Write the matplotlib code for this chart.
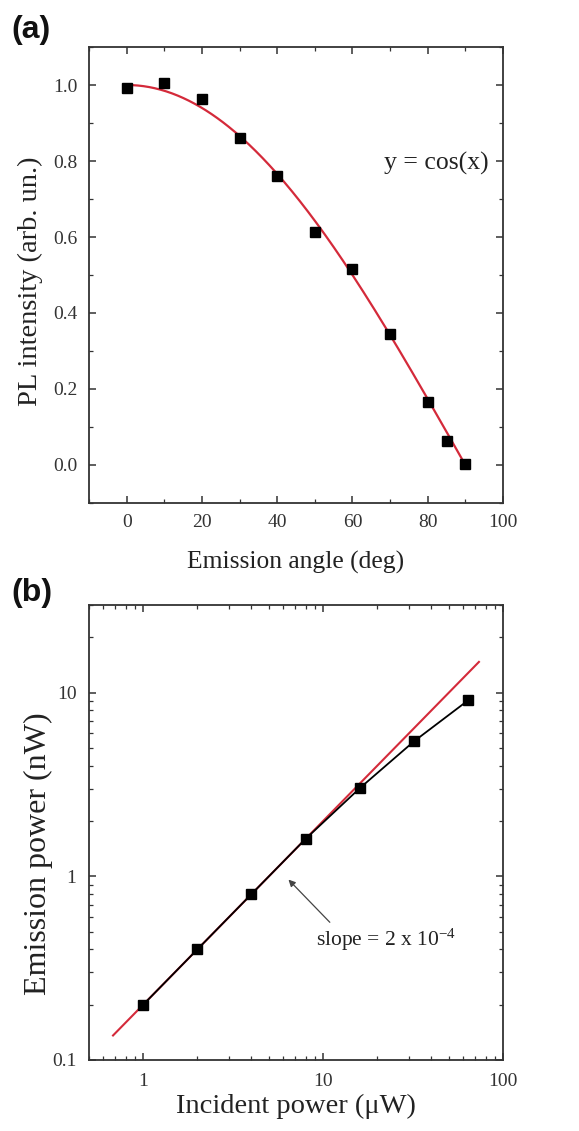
import numpy as np
import matplotlib
matplotlib.use("Agg")
import matplotlib.pyplot as plt
from matplotlib.ticker import MultipleLocator, LogLocator, NullFormatter, FixedLocator, FixedFormatter

# Panel (a) data
angle_deg = [0, 10, 20, 30, 40, 50, 60, 70, 80, 85, 90]
pl_intensity = [0.993, 1.005, 0.962, 0.861, 0.76, 0.613, 0.515, 0.346, 0.165, 0.063, 0.003]

# Panel (b) data
incident_power = [1, 2, 4, 8, 16, 32, 64]
emission_power = [0.2, 0.4, 0.8, 1.6, 3.02, 5.43, 9.08]
fit_slope = 0.2  # nW per uW  (2 x 10^-4)
fit_range = [0.68, 73.5]

plt.rcParams['font.family'] = ['Liberation Serif', 'DejaVu Serif']
plt.rcParams['mathtext.fontset'] = 'custom'
plt.rcParams['mathtext.rm'] = 'Liberation Serif'
plt.rcParams['mathtext.it'] = 'Liberation Serif:italic'

W, H = 579, 1131
fig = plt.figure(figsize=(W / 100, H / 100), dpi=100)

def ax_rect(l, t, r, b):
    return [l / W, 1 - b / H, (r - l) / W, (b - t) / H]

def style(ax, pad):
    for s in ax.spines.values():
        s.set_linewidth(1.3)
        s.set_color('#333333')
    ax.tick_params(which='both', direction='in', top=True, right=True, colors='#333333')
    ax.tick_params(which='major', length=5, width=1.1, labelsize=14, labelcolor='#333333', pad=pad)
    ax.tick_params(which='minor', length=3, width=0.9)

# ---- Panel (a)
ax1 = fig.add_axes(ax_rect(89, 47, 503, 503))
xs = np.linspace(0, 90, 300)
ax1.plot(xs, np.cos(np.radians(xs)), color='#d42a3a', lw=1.6, zorder=2)
ax1.plot(angle_deg, pl_intensity, 's', color='black', ms=7.5, zorder=3)
ax1.set_xlim(-10, 100)
ax1.set_ylim(-0.1, 1.1)
ax1.xaxis.set_major_locator(MultipleLocator(20))
ax1.xaxis.set_minor_locator(MultipleLocator(10))
ax1.yaxis.set_major_locator(FixedLocator([0.0, 0.2, 0.4, 0.6, 0.8, 1.0]))
ax1.yaxis.set_major_formatter(FixedFormatter(['0.0', '0.2', '0.4', '0.6', '0.8', '1.0']))
ax1.yaxis.set_minor_locator(MultipleLocator(0.1))
style(ax1, 8)
ax1.set_xlabel('Emission angle (deg)', fontsize=18.4, color='#222222', labelpad=14)
ax1.set_ylabel('PL intensity (arb. un.)', fontsize=20.5, color='#222222')
ax1.yaxis.set_label_coords(-0.11, 0.487)
ax1.text(0.965, 0.745, 'y = cos(x)', transform=ax1.transAxes, ha='right', va='center',
         fontsize=18.5, color='#222222')
fig.text(11 / W, 1 - 30 / H, '(a)', fontsize=23, fontweight='bold',
         family=['Liberation Sans', 'DejaVu Sans'], va='center', ha='left', color='#111111')

# ---- Panel (b)
ax2 = fig.add_axes(ax_rect(89, 605, 503, 1060))
xf = np.array(fit_range)
ax2.plot(xf, fit_slope * xf, color='#d42a3a', lw=1.5, zorder=2)
ax2.plot(incident_power, emission_power, '-s', color='black', lw=1.3, ms=7.5, zorder=3)
ax2.set_xscale('log')
ax2.set_yscale('log')
ax2.set_xlim(0.5, 100)
ax2.set_ylim(0.1, 30)
ax2.xaxis.set_major_locator(FixedLocator([1, 10, 100]))
ax2.xaxis.set_major_formatter(FixedFormatter(['1', '10', '100']))
ax2.xaxis.set_minor_locator(LogLocator(base=10, subs=np.arange(2, 10)))
ax2.xaxis.set_minor_formatter(NullFormatter())
ax2.yaxis.set_major_locator(FixedLocator([0.1, 1, 10]))
ax2.yaxis.set_major_formatter(FixedFormatter(['0.1', '1', '10']))
ax2.yaxis.set_minor_locator(LogLocator(base=10, subs=np.arange(2, 10)))
ax2.yaxis.set_minor_formatter(NullFormatter())
style(ax2, 9)
ax2.set_xlabel('Incident power (\u03bcW)', fontsize=20.5, color='#222222', labelpad=3)
ax2.set_ylabel('Emission power (nW)', fontsize=23, color='#222222')
ax2.yaxis.set_label_coords(-0.086, 0.453)
ax2.annotate('', xy=(6.42, 0.96), xytext=(10.9, 0.562),
             arrowprops=dict(arrowstyle='-|>', color='#444444', lw=0.9,
                             shrinkA=0, shrinkB=0, mutation_scale=10))
ax2.text(9.16, 0.449, 'slope = 2 x 10$^{\\mathrm{-4}}$', fontsize=15.5, color='#222222',
         ha='left', va='center')
fig.text(11 / W, 1 - 593 / H, '(b)', fontsize=23, fontweight='bold',
         family=['Liberation Sans', 'DejaVu Sans'], va='center', ha='left', color='#111111')

fig.savefig('out.png', dpi=100)
